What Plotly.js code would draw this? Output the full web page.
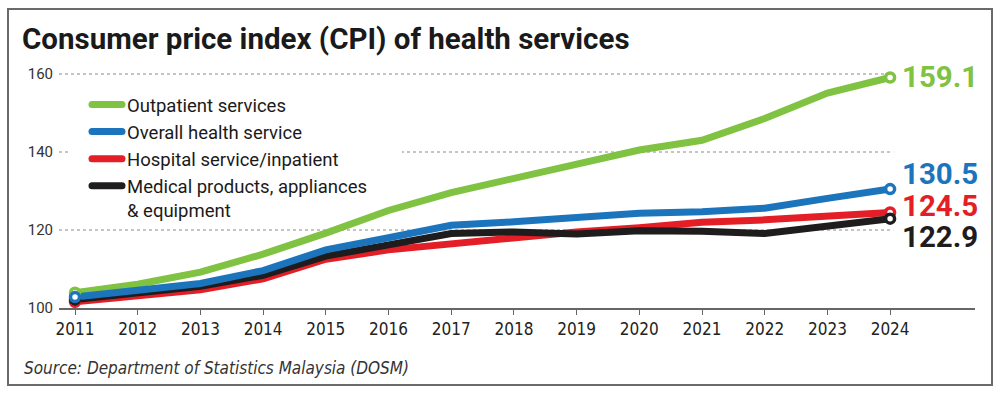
<!DOCTYPE html>
<html>
<head>
<meta charset="utf-8">
<script src="https://cdn.plot.ly/plotly-3.0.1.min.js"></script>
<style>
  html, body { margin: 0; padding: 0; background: #fff; }
  #wrap { position: relative; width: 1000px; height: 393px; }
  #chart { width: 1000px; height: 393px; }
  #frame { position: absolute; left: 7px; top: 8px; width: 982px; height: 374px;
           border: 2px solid #6a6a6a; pointer-events: none; }
  .legend .js-line { stroke-linecap: round; }
</style>
</head>
<body>
<div id="wrap">
  <div id="chart"></div>
  <div id="frame"></div>
</div>
<script>
// ---- data ----
const years = [2011, 2012, 2013, 2014, 2015, 2016, 2017, 2018, 2019, 2020, 2021, 2022, 2023, 2024];
const outpatient = [103.9, 106.1, 109.2, 113.8, 119.2, 125.0, 129.6, 133.2, 137.0, 140.5, 143.0, 148.6, 155.1, 159.1];
const overall    = [102.8, 104.6, 106.3, 109.6, 114.9, 118.0, 121.2, 122.1, 123.0, 124.3, 124.7, 125.6, 128.1, 130.5];
const hospital   = [101.6, 103.1, 104.7, 107.5, 112.5, 114.9, 116.5, 117.9, 119.5, 120.6, 122.0, 122.6, 123.6, 124.5];
const medical    = [102.2, 103.9, 105.6, 108.4, 113.3, 116.2, 119.1, 119.5, 119.0, 119.8, 119.7, 119.1, 120.9, 122.9];
const seriesNames = ["Outpatient services", "Overall health service", "Hospital service/inpatient", "Medical products, appliances<br>& equipment"];
const seriesColors = ["#80c241", "#1c75bc", "#e31e26", "#1f1c1d"];
const endLabels = ["159.1", "130.5", "124.5", "122.9"];
const yTicks = [100, 120, 140, 160];
const titleText = "Consumer price index (CPI) of health services";
const sourceText = "Source: Department of Statistics Malaysia (DOSM)";

const allSeries = [outpatient, overall, hospital, medical];
// draw order: green, red, black, blue (blue on top at start)
const drawOrder = [0, 2, 3, 1];
const labelShift = [1, 15, 6, -18];

const traces = [];
drawOrder.forEach(i => {
  traces.push({
    x: years, y: allSeries[i], type: 'scatter', mode: 'lines',
    name: seriesNames[i], legendrank: i + 1,
    line: { color: seriesColors[i], width: 7 },
    hoverinfo: 'skip'
  });
});
drawOrder.forEach(i => {
  const s = allSeries[i];
  traces.push({
    x: [years[0], years[years.length - 1]], y: [s[0], s[s.length - 1]],
    type: 'scatter', mode: 'markers', showlegend: false, hoverinfo: 'skip',
    marker: { size: 9, color: '#ffffff', line: { color: seriesColors[i], width: 3.5 } }
  });
});

const L = 59, R = 25, T = 60, B = 85;
const plotW = 1000 - L - R, plotH = 393 - T - B;
const pxPerYear = 62.7, pxPerUnit = 3.9;
const xr = [years[0] - 16 / pxPerYear, years[0] + (plotW - 16) / pxPerYear];
const yr = [100, 100 + plotH / pxPerUnit];
const pxToX = px => xr[0] + (px - L) / pxPerYear;
const pxToY = py => 100 + (T + plotH - py) / pxPerUnit;

const shapes = yTicks.filter(v => v > 100).map(v => ({
  type: 'line', xref: 'x', yref: 'y', x0: xr[0], x1: years[years.length - 1] + 0.05, y0: v, y1: v,
  line: { color: '#8a8a8a', width: 1, dash: 'dot' }, layer: 'below'
}));
// white panel behind the legend (hides the gridline, stays under the lines)
shapes.push({
  type: 'rect', xref: 'x', yref: 'y', x0: pxToX(68), x1: pxToX(402), y0: pxToY(90), y1: pxToY(214),
  fillcolor: '#ffffff', line: { width: 0 }, layer: 'below'
});

const annotations = [];
[0, 1, 2, 3].forEach(i => {
  const s = allSeries[i];
  annotations.push({
    x: years[years.length - 1], y: s[s.length - 1], xref: 'x', yref: 'y',
    text: '<b>' + endLabels[i] + '</b>', showarrow: false,
    xanchor: 'left', yanchor: 'middle', xshift: 10, yshift: labelShift[i],
    font: { family: 'Roboto, sans-serif', size: 29.5, color: seriesColors[i] }
  });
});
annotations.push({
  xref: 'paper', yref: 'paper', x: (22 - L) / plotW, y: (plotH - (368 - T)) / plotH,
  xanchor: 'left', yanchor: 'middle', showarrow: false,
  text: '<i>' + sourceText + '</i>',
  font: { family: '"Liberation Sans Narrow", "DejaVu Sans Condensed", Roboto, sans-serif', size: 17, color: '#333333' }
});

const layout = {
  width: 1000, height: 393,
  margin: { l: L, r: R, t: T, b: B },
  paper_bgcolor: '#ffffff', plot_bgcolor: '#ffffff',
  title: {
    text: '<b>' + titleText + '</b>',
    xref: 'container', yref: 'container', x: 22 / 1000, xanchor: 'left',
    y: 1 - 39 / 393, yanchor: 'middle',
    font: { family: 'Roboto, sans-serif', size: 29.5, color: '#1a1a1a', weight: 900 }
  },
  xaxis: {
    range: xr, tickvals: years, ticktext: years.map(String),
    showgrid: false, zeroline: false,
    showline: true, linecolor: '#666666', linewidth: 1.5,
    ticks: 'outside', ticklen: 5, tickcolor: '#666666', tickwidth: 1,
    tickfont: { family: '"Liberation Sans Narrow", "DejaVu Sans Condensed", Roboto, sans-serif', size: 17, color: '#222222' },
    fixedrange: true
  },
  yaxis: {
    range: yr, tickvals: yTicks, ticktext: yTicks.map(String),
    showgrid: false, zeroline: false, showline: false, ticks: '',
    ticklabelstandoff: 5,
    tickfont: { family: 'Roboto, sans-serif', size: 15, color: '#333333' },
    fixedrange: true
  },
  legend: {
    x: (87 - L) / plotW, xanchor: 'left', y: (plotH - (86 - T)) / plotH, yanchor: 'top',
    bgcolor: 'rgba(0,0,0,0)', borderwidth: 0, traceorder: 'normal', valign: 'top',
    font: { family: 'Roboto, sans-serif', size: 18.5, color: '#1a1a1a' },
    itemwidth: 30
  },
  shapes: shapes,
  annotations: annotations,
  showlegend: true
};

Plotly.newPlot('chart', traces, layout, { displayModeBar: false, staticPlot: true });
</script>
</body>
</html>
